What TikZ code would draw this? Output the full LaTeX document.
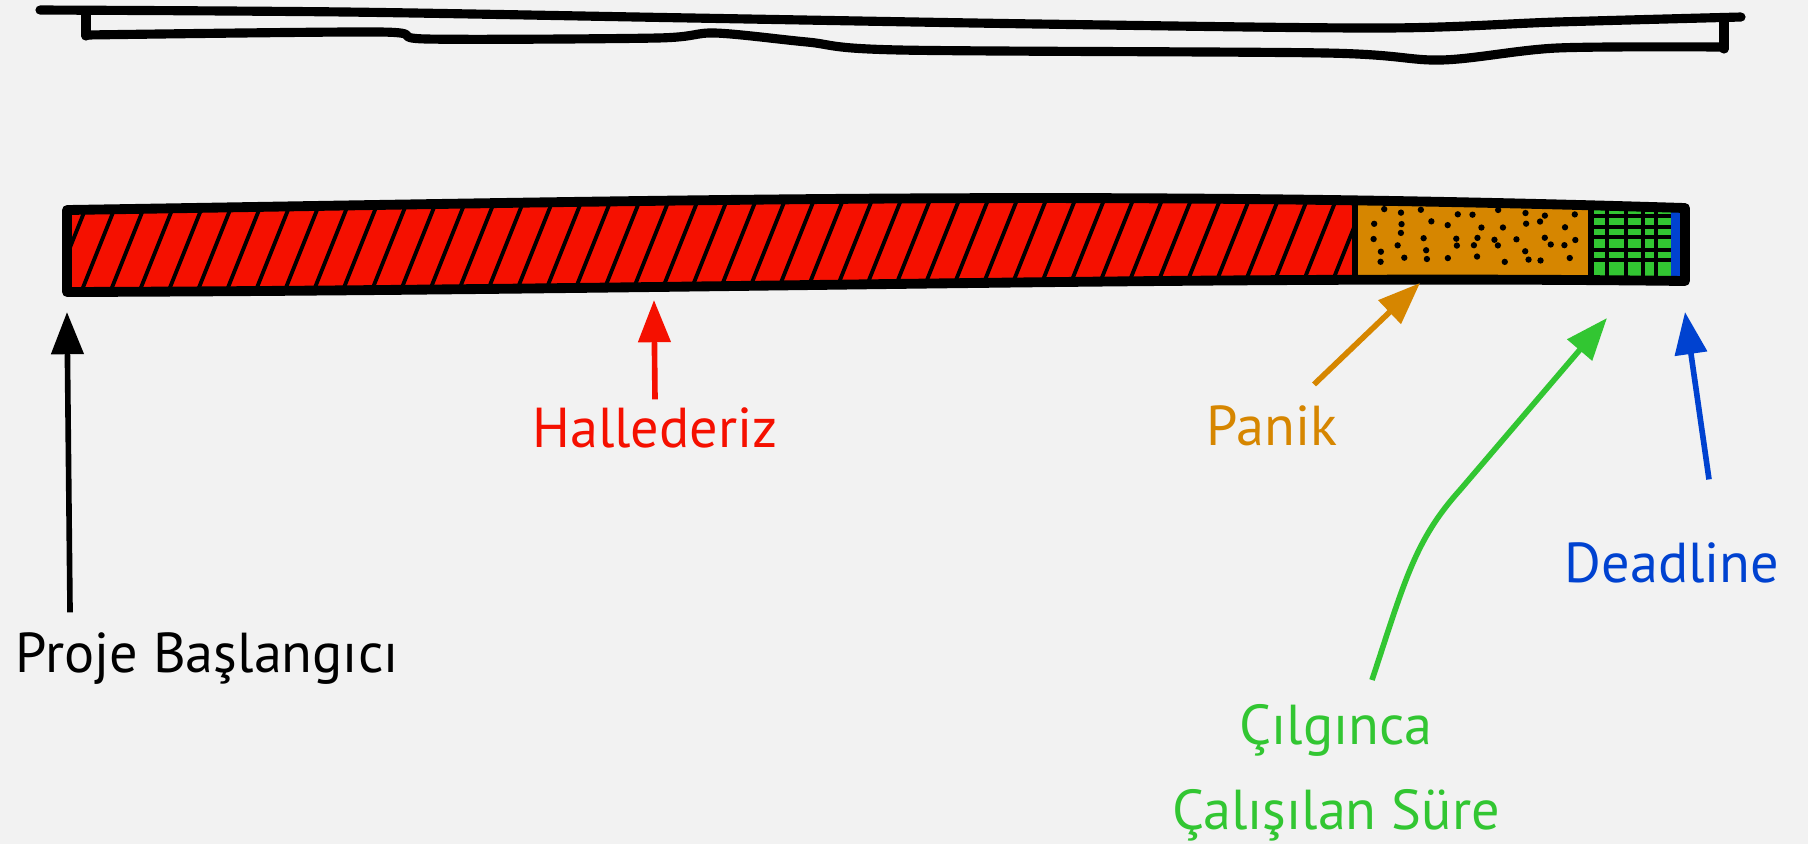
\documentclass[tikz,border=0pt]{standalone}
\usepackage{fontspec}
\setmainfont{PT Sans}
\usetikzlibrary{arrows.meta,positioning,calc}
\definecolor{paper}{RGB}{242,242,242}
\definecolor{okred}{RGB}{245,16,0}
\definecolor{panicorange}{RGB}{214,134,0}
\definecolor{crunchgreen}{RGB}{50,198,50}
\definecolor{deadblue}{RGB}{0,66,208}

\begin{document}
\begin{tikzpicture}[x=0.01cm,y=-0.01cm,
  phase/.style={inner sep=2pt,font=\fontsize{16}{24}\selectfont,align=center},
  arr/.style={-{Triangle[length=12pt,width=9pt]},line width=1.6pt},
  sketch/.style={line width=2.6pt,line cap=round,line join=round},
  hatch/.style={line width=1.1pt}]
\path[fill=paper,use as bounding box] (0,0) rectangle (1808,844);

% empty bar on top
\draw[sketch] plot[smooth] coordinates {(40,10) (346,12) (692,18) (1038,24) (1384,28) (1557,22) (1741,17)};
\draw[sketch] (86,13) -- (86,36);
\draw[sketch] plot[smooth] coordinates {(86,35) (380,32) (427,39) (657,38) (715,33) (807,42) (900,50) (1326,53) (1441,60) (1557,48) (1724,47)};
\draw[sketch] (1724,19) -- (1724,49);

% the filled bar
\def\timebar{(67,210) .. controls (700,200) and (1100,190) .. (1685,208) -- (1685,281) .. controls (1200,275) and (700,290) .. (67,292) -- cycle}
\begin{scope}
\clip \timebar;
\fill[okred] (60,180) rectangle (1355,300);
\foreach \x in {20,49,...,1340} \draw[hatch] (\x,300) -- ++(40,-100);
\fill[panicorange] (1355,180) rectangle (1592,300);
\pgfmathsetseed{7}
\foreach \i in {0,...,8}{
  \foreach \j in {0,...,4}{
    \pgfmathsetmacro{\dx}{1372+24*\i+14*rnd}
    \pgfmathsetmacro{\dy}{208+12*\j+8*rnd}
    \fill (\dx,\dy) circle (0.9pt);
  }
}
\fill (1588,180) rectangle (1594,300);
\fill[crunchgreen] (1594,180) rectangle (1671,300);
\foreach \x in {1607,1626,1643,1656} \draw[line width=1.1pt] (\x,180) -- (\x,300);
\foreach \y in {216,227,237,250,260} \draw[line width=1.1pt] (1594,\y) -- (1671,\y);
\fill[deadblue] (1671,180) rectangle (1680,300);
\draw[line width=1.6pt] (1355,180) -- (1355,300);
\end{scope}
\draw[line width=2.8pt,line join=round] \timebar;

% labels
\node[phase,text=black,anchor=base west] (start) at (8,672) {Proje Başlangıcı};
\node[phase,text=okred,anchor=base] (hall) at (655,447) {Hallederiz};
\node[phase,text=panicorange,anchor=base] (panic) at (1272,445) {Panik};
\node[phase,text=crunchgreen,anchor=north] (crunch) at (1336,697) {Çılgınca\\Çalışılan Süre};
\node[phase,text=deadblue,anchor=base] (deadline) at (1672,582) {Deadline};

\coordinate (starttip) at (67,312);
\coordinate (halltip) at (654,300);
\coordinate (panictip) at (1420,283);
\coordinate (crunchtip) at (1607,318);
\coordinate (deadtip) at (1685,312);

\draw[arr] ([xshift=0.62cm,yshift=0.12cm]start.north west) -- (starttip);
\draw[arr,okred] (hall.north) -- (halltip);
\draw[arr,panicorange] ([xshift=0.42cm,yshift=0.13cm]panic.north) -- (panictip);
\draw[arr,crunchgreen] ([xshift=0.36cm,yshift=0.17cm]crunch.north) .. controls (1405,580) and (1415,540) .. (1460,490) -- (crunchtip);
\draw[arr,deadblue] ([xshift=0.37cm,yshift=0.55cm]deadline.north) -- (deadtip);
\end{tikzpicture}
\end{document}
